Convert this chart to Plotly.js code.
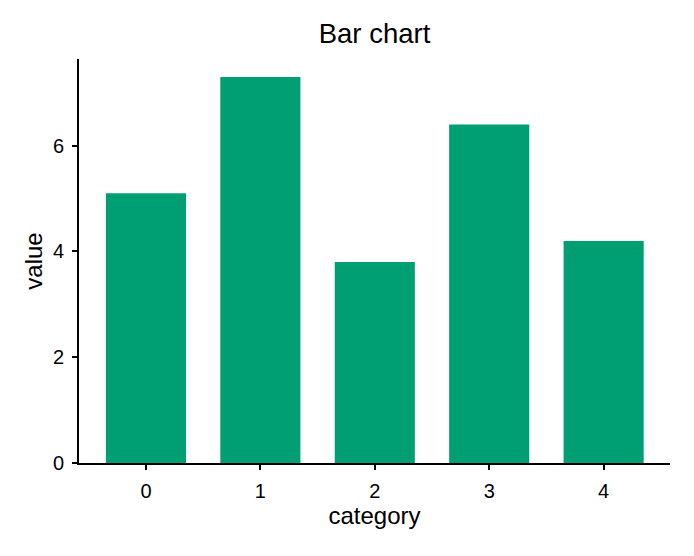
<!DOCTYPE html>
<html>
<head>
<meta charset="utf-8">
<script src="https://cdn.plot.ly/plotly-3.0.1.min.js"></script>
<style>html,body{margin:0;padding:0;background:#fff;}#chart{width:694px;height:556px;}</style>
</head>
<body>
<div id="chart"></div>
<script>
const categories = [0, 1, 2, 3, 4];
const values = [5.1, 7.3, 3.8, 6.4, 4.2];
const tickLabels = ["0", "1", "2", "3", "4"];

const trace = {
  type: 'bar',
  x: categories,
  y: values,
  width: 0.7,
  marker: {color: '#009E73', line: {width: 0}},
  hoverinfo: 'x+y'
};

const layout = {
  width: 694,
  height: 556,
  margin: {l: 79, r: 24, t: 59, b: 93},
  paper_bgcolor: '#ffffff',
  plot_bgcolor: '#ffffff',
  font: {family: 'Liberation Sans, Arial, sans-serif', color: '#000000', size: 20},
  title: {text: 'Bar chart', font: {size: 27.5, color: '#000'}, xref: 'paper', x: 0.5, xanchor: 'center', y: 0.94, yanchor: 'middle'},
  showlegend: false,
  xaxis: {
    range: [-0.585, 4.58],
    tickvals: categories,
    ticktext: tickLabels,
    showgrid: false,
    zeroline: false,
    showline: true,
    linecolor: '#000',
    linewidth: 2,
    ticks: 'outside',
    ticklen: 5,
    tickwidth: 2,
    tickcolor: '#000',
    ticklabelstandoff: 4,
    tickfont: {size: 20},
    title: {text: 'category', font: {size: 24}, standoff: 6}
  },
  yaxis: {
    range: [0, 7.64],
    tickvals: [0, 2, 4, 6],
    showgrid: false,
    zeroline: false,
    showline: true,
    linecolor: '#000',
    linewidth: 2,
    ticks: 'outside',
    ticklen: 5,
    tickwidth: 2,
    tickcolor: '#000',
    ticklabelstandoff: 4,
    tickfont: {size: 20},
    title: {text: 'value', font: {size: 24}, standoff: 3}
  }
};

Plotly.newPlot('chart', [trace], layout, {displayModeBar: false, staticPlot: true});
</script>
</body>
</html>
